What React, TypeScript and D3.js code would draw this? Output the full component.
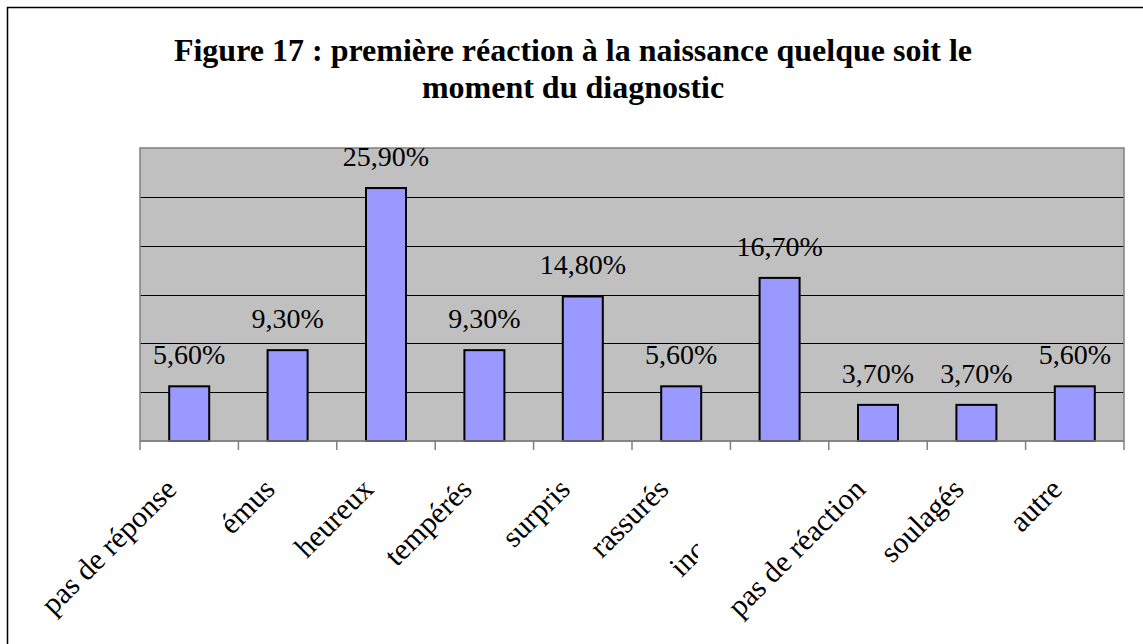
import React from "react";
import * as d3 from "d3";

const categories = ["pas de réponse", "émus", "heureux", "tempérés", "surpris", "rassurés", "incrédules", "pas de réaction", "soulagés", "autre"];
const values = [5.6, 9.3, 25.9, 9.3, 14.8, 5.6, 16.7, 3.7, 3.7, 5.6];
const valueLabels = ["5,60%", "9,30%", "25,90%", "9,30%", "14,80%", "5,60%", "16,70%", "3,70%", "3,70%", "5,60%"];
const yTicks = [0, 5, 10, 15, 20, 25, 30];
const titleLines = ["Figure 17 : première réaction à la naissance quelque soit le", "moment du diagnostic"];
const clippedCategory = "incrédules";

export default function App() {
  const W = 1143, H = 644;
  const left = 140, right = 1124, top = 148, bottom = 441;
  const x = d3.scaleBand<string>().domain(categories).range([left, right]).paddingInner(0).paddingOuter(0);
  const y = d3.scaleLinear().domain([0, 30]).range([bottom, top]);
  const bw = 40;
  const font = "'Liberation Serif', 'Times New Roman', serif";
  const boundaries = categories.map((c) => x(c)!).concat([right]);
  const labelAnchor = (c: string) => {
    const cx = x(c)! + x.bandwidth() / 2;
    return [cx - 11, 491];
  };
  return (
    <svg width={W} height={H} style={{ position: "absolute", left: 0, top: 0 }} fontFamily={font}>
      <defs>
        <clipPath id="clipInc">
          <rect x={0} y={0} width={698} height={H} />
        </clipPath>
      </defs>
      <rect x={0} y={0} width={W} height={H} fill="#fff" />
      <rect x={7.5} y={7.5} width={W + 20} height={H + 20} fill="none" stroke="#000" strokeWidth={1.5} />
      {titleLines.map((t, i) => (
        <text key={i} x={573} y={61 + i * 36.5} textAnchor="middle" fontWeight="bold" fontSize={32}>{t}</text>
      ))}
      <rect x={left} y={top} width={right - left} height={bottom - top} fill="#C0C0C0" />
      {yTicks.slice(1, -1).map((v) => (
        <line key={v} x1={left} x2={right} y1={Math.round(y(v)) + 0.5} y2={Math.round(y(v)) + 0.5} stroke="#000" strokeWidth={1} />
      ))}
      <rect x={left} y={top} width={right - left} height={bottom - top} fill="none" stroke="#808080" strokeWidth={1.5} />
      {categories.map((c, i) => {
        const cx = x(c)! + x.bandwidth() / 2;
        return (
          <g key={c}>
            <rect x={cx - bw / 2} y={y(values[i])} width={bw} height={bottom - y(values[i])} fill="#9999FF" stroke="#000" strokeWidth={2} />
            <text x={cx} y={y(values[i]) - 22} textAnchor="middle" fontSize={28}>{valueLabels[i]}</text>
          </g>
        );
      })}
      <line x1={left} x2={right} y1={bottom} y2={bottom} stroke="#808080" strokeWidth={1.5} />
      {boundaries.map((bx, i) => (
        <line key={i} x1={bx} x2={bx} y1={bottom} y2={450} stroke="#808080" strokeWidth={1.5} />
      ))}
      {categories.map((c) => {
        const [ax, ay] = labelAnchor(c);
        const t = (
          <text x={ax} y={ay} textAnchor="end" fontSize={30} transform={`rotate(-45 ${ax} ${ay})`}>{c}</text>
        );
        return c === clippedCategory ? (
          <g key={c} clipPath="url(#clipInc)">{t}</g>
        ) : (
          <g key={c}>{t}</g>
        );
      })}
    </svg>
  );
}
